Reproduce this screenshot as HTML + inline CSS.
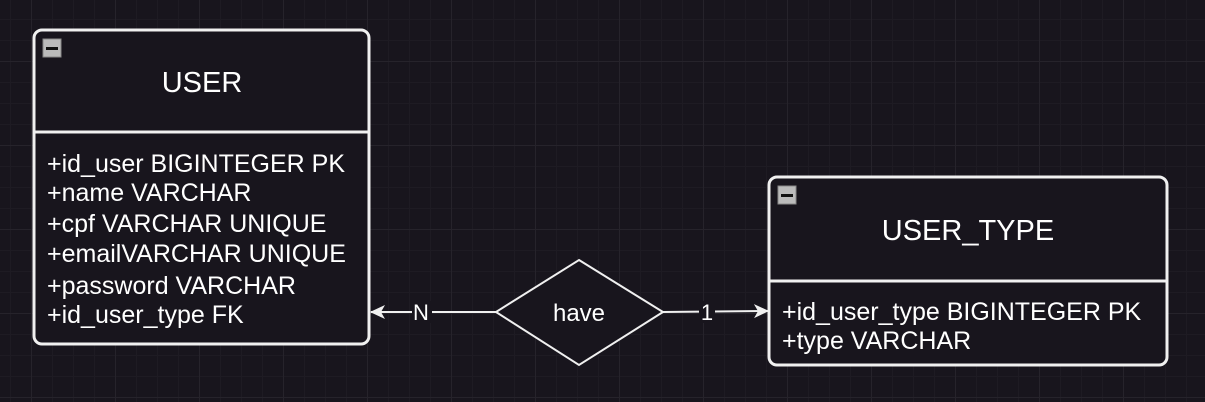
<!DOCTYPE html>
<html><head><style>
body{margin:0;width:1205px;height:402px;overflow:hidden;background:#18151d;
background-image:linear-gradient(#26232b 1px,transparent 1px),linear-gradient(90deg,#26232b 1px,transparent 1px),linear-gradient(#1e1b23 1px,transparent 1px),linear-gradient(90deg,#1e1b23 1px,transparent 1px);
background-size:84px 84px,84px 84px,21px 21px,21px 21px;background-position:-53px -23px;
font-family:"Liberation Sans",sans-serif;color:#fff}
</style></head><body>
<svg width="1205" height="402" style="position:absolute;left:0;top:0" font-family="Liberation Sans, sans-serif" fill="#fff">
<defs><marker id="a" markerWidth="16" markerHeight="16" refX="14" refY="8" orient="auto" markerUnits="userSpaceOnUse"><path d="M0,1 L15,8 L0,15 L4,8Z" fill="#f0f0f0"/></marker></defs>
<rect x="34" y="30" width="335" height="314" rx="8" fill="#18151d" stroke="#f0f0f0" stroke-width="3"/>
<line x1="34" y1="132" x2="369" y2="132" stroke="#f0f0f0" stroke-width="3"/>
<rect x="43" y="39" width="18" height="18" fill="#bbb" stroke="#888"/><rect x="46" y="47" width="12" height="3" fill="#111"/>
<text x="202" y="92" font-size="29" text-anchor="middle">USER</text>
<g font-size="25"><text x="47" y="172">+id_user BIGINTEGER PK</text><text x="47" y="201">+name VARCHAR</text><text x="47" y="232">+cpf VARCHAR UNIQUE</text><text x="47" y="262">+emailVARCHAR UNIQUE</text><text x="47" y="294">+password VARCHAR</text><text x="47" y="323">+id_user_type FK</text></g>
<rect x="769" y="177" width="398" height="188" rx="8" fill="#18151d" stroke="#f0f0f0" stroke-width="3"/>
<line x1="769" y1="281" x2="1167" y2="281" stroke="#f0f0f0" stroke-width="3"/>
<rect x="778" y="186" width="18" height="18" fill="#bbb" stroke="#888"/><rect x="781" y="194" width="12" height="3" fill="#111"/>
<text x="968" y="240" font-size="29" text-anchor="middle">USER_TYPE</text>
<g font-size="25"><text x="782" y="320">+id_user_type BIGINTEGER PK</text><text x="782" y="349">+type VARCHAR</text></g>
<line x1="496" y1="312" x2="371" y2="312" stroke="#f0f0f0" stroke-width="2" marker-end="url(#a)"/>
<line x1="663" y1="312" x2="768" y2="311" stroke="#f0f0f0" stroke-width="2" marker-end="url(#a)"/>
<rect x="412" y="301" width="20" height="22" fill="#18151d"/><text x="421" y="320" font-size="22" text-anchor="middle">N</text>
<rect x="699" y="301" width="16" height="22" fill="#18151d"/><text x="707" y="320" font-size="22" text-anchor="middle">1</text>
<polygon points="579,260 663,312 579,365 496,312" fill="#18151d" stroke="#f0f0f0" stroke-width="2"/>
<text x="579" y="321" font-size="24" text-anchor="middle">have</text>
</svg>
</body></html>
